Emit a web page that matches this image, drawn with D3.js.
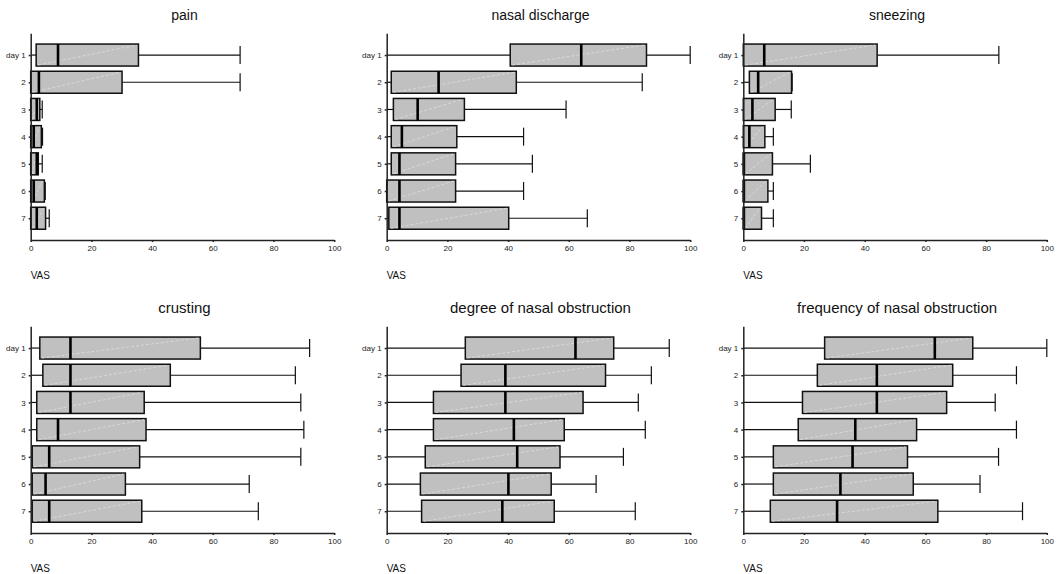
<!DOCTYPE html>
<html>
<head>
<meta charset="utf-8">
<script src="https://cdn.jsdelivr.net/npm/d3@7"></script>
<style>
  html, body { margin: 0; padding: 0; background: #fff; }
  svg { display: block; font-family: "Liberation Sans", Arial, sans-serif; }
</style>
</head>
<body>
<script>
// Days of follow-up (y categories) and VAS axis ticks
const days = ["day 1", "2", "3", "4", "5", "6", "7"];
const vasTicks = [0, 20, 40, 60, 80, 100];

// Per-day box statistics: [min, q1, median, q3, max] on the 0–100 VAS
const pain = [
  [0, 1.8, 9, 35.5, 69],
  [0, 0, 2.7, 30.1, 69],
  [0, 0, 2, 3, 3.8],
  [0, 0, 1, 3.5, 3.9],
  [0, 0, 2, 2.5, 3.8],
  [0, 0, 1, 4.5, 4.8],
  [0, 0, 2, 4.9, 6.1]
];
const nasalDischarge = [
  [0, 40.7, 64.1, 85.6, 100],
  [0, 1.5, 17.1, 42.7, 84.2],
  [0, 2.2, 10.2, 25.6, 59.1],
  [0, 1.5, 5, 23.1, 45.1],
  [0, 1.5, 4.2, 22.7, 48],
  [0, 0, 4.2, 22.7, 45.1],
  [0, 0.7, 4.2, 40.2, 66.1]
];
const sneezing = [
  [0, 0, 6.9, 44.1, 84.2],
  [0, 2, 4.9, 15.9, 16.1],
  [0, 0, 3, 10.5, 15.8],
  [0, 0, 2, 7.1, 9.9],
  [0, 0, 0.2, 9.6, 22.1],
  [0, 0, 0.2, 8.1, 9.9],
  [0, 0, 0.2, 6, 9.9]
];
const crusting = [
  [0, 3, 13.1, 55.9, 91.9],
  [0, 4, 13.1, 46, 87.2],
  [0, 2, 13.1, 37.4, 89],
  [0, 2, 9, 38, 90],
  [0, 0.5, 6.1, 35.9, 89],
  [0, 0.5, 4.9, 31.2, 72],
  [0, 0.5, 6.1, 36.6, 75]
];
const obstructionDegree = [
  [0, 25.9, 62.2, 74.8, 93.1],
  [0, 24.5, 39.1, 72.1, 87.2],
  [0, 15.4, 39.1, 64.7, 82.9],
  [0, 15.4, 41.9, 58.5, 85.2],
  [0, 12.7, 43, 57.1, 78],
  [0, 11.1, 40.1, 54.2, 69],
  [0, 11.5, 38.1, 55.2, 81.9]
];
const obstructionFrequency = [
  [0, 26.8, 63.1, 75.6, 100],
  [0, 24.4, 44, 69, 90],
  [0, 19.5, 44, 67, 83],
  [0, 18.1, 36.9, 57.1, 90],
  [0, 9.9, 36, 54.1, 84.1],
  [0, 9.9, 32, 56, 78],
  [0, 8.9, 30.9, 64.1, 92]
];

const titles = ["pain", "nasal discharge", "sneezing",
                "crusting", "degree of nasal obstruction", "frequency of nasal obstruction"];
const series = [pain, nasalDischarge, sneezing, crusting, obstructionDegree, obstructionFrequency];

// Layout
const W = 1057, H = 574;
const colLeft = [30.7, 386.7, 743.3];
const rowTop = [33.3, 326.3];
const plotW = 303.5, plotH = 206.7;
const boxH = 22, capH = 18;
const titleSize = [14, 15];

const svg = d3.select("body").append("svg")
  .attr("width", W).attr("height", H);

series.forEach((stats, i) => {
  const col = i % 3, row = Math.floor(i / 3);
  const left = colLeft[col], top = rowTop[row];

  const x = d3.scaleLinear().domain([0, 100]).range([left, left + plotW]);
  const y = d3.scalePoint().domain(days).range([top, top + plotH]).padding(0.8);

  const g = svg.append("g");

  // title
  g.append("text")
    .attr("x", left + plotW / 2 + 2)
    .attr("y", top - 13.3)
    .attr("text-anchor", "middle")
    .attr("font-size", titleSize[row])
    .attr("fill", "#111")
    .text(titles[i]);

  const rows = g.selectAll("g.day").data(stats).join("g").attr("class", "day");
  const cy = (d, j) => y(days[j]);

  // whiskers
  rows.append("line")
    .attr("x1", d => x(d[0])).attr("x2", d => x(d[1]))
    .attr("y1", cy).attr("y2", cy)
    .attr("stroke", "#111").attr("stroke-width", 1.2);
  rows.append("line")
    .attr("x1", d => x(d[3])).attr("x2", d => x(d[4]))
    .attr("y1", cy).attr("y2", cy)
    .attr("stroke", "#111").attr("stroke-width", 1.2);
  rows.append("line")
    .attr("x1", d => x(d[4])).attr("x2", d => x(d[4]))
    .attr("y1", (d, j) => cy(d, j) - capH / 2).attr("y2", (d, j) => cy(d, j) + capH / 2)
    .attr("stroke", "#111").attr("stroke-width", 1.2);

  // boxes
  rows.append("rect")
    .attr("x", d => x(d[1]))
    .attr("y", (d, j) => cy(d, j) - boxH / 2)
    .attr("width", d => x(d[3]) - x(d[1]))
    .attr("height", boxH)
    .attr("fill", "#c0c0c0")
    .attr("stroke", "#111")
    .attr("stroke-width", 1.5);

  // faint diagonal sheen inside each box
  rows.append("line")
    .attr("x1", d => x(d[1]) + 2).attr("y1", (d, j) => cy(d, j) + boxH / 2 - 1)
    .attr("x2", d => x(d[3]) - 2).attr("y2", (d, j) => cy(d, j) - boxH / 2 + 1)
    .attr("stroke", "#dedede").attr("stroke-width", 0.8)
    .attr("stroke-dasharray", "3,2");

  // medians
  rows.append("line")
    .attr("x1", d => x(d[2])).attr("x2", d => x(d[2]))
    .attr("y1", (d, j) => cy(d, j) - boxH / 2).attr("y2", (d, j) => cy(d, j) + boxH / 2)
    .attr("stroke", "#000").attr("stroke-width", 2.6);

  // axes
  const xAxis = g.append("g")
    .attr("transform", `translate(0,${top + plotH})`)
    .call(d3.axisBottom(x).tickValues(vasTicks).tickSize(2).tickSizeOuter(0).tickPadding(3));
  const yAxis = g.append("g")
    .attr("transform", `translate(${left},0)`)
    .call(d3.axisLeft(y).tickSize(2).tickSizeOuter(0).tickPadding(3));

  [xAxis, yAxis].forEach(a => {
    a.select(".domain").attr("stroke", "#222").attr("stroke-width", 1.5);
    a.selectAll(".tick line").attr("stroke", "#222").attr("stroke-width", 1.5);
    a.selectAll(".tick text").attr("font-size", 8).attr("fill", "#222")
      .attr("font-family", "Liberation Sans, Arial, sans-serif");
  });

  // axis label
  g.append("text")
    .attr("x", left)
    .attr("y", top + plotH + 39)
    .attr("font-size", 10)
    .attr("fill", "#111")
    .text("VAS");
});
</script>
</body>
</html>
